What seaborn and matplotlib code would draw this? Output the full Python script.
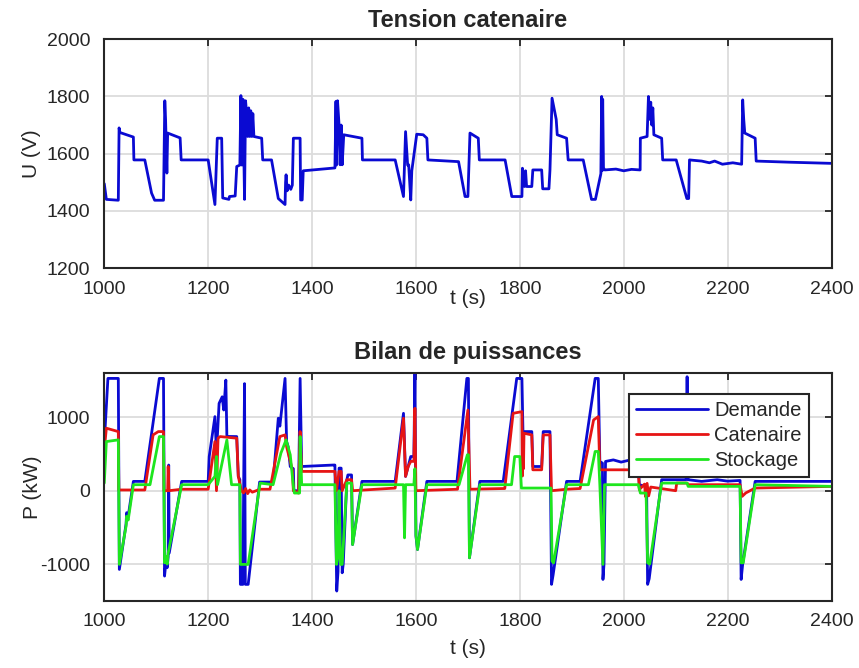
import numpy as np
import pandas as pd
import matplotlib
matplotlib.use("Agg")
import matplotlib.pyplot as plt
import seaborn as sns

# Tension catenaire (s, V)
t_u = [1000, 1004, 1027, 1028.5, 1030, 1056, 1057, 1078, 1091, 1097, 1114, 1116.5, 1118, 1120.5, 1122,
       1146, 1148, 1200, 1213, 1217.5, 1226, 1228, 1240, 1241, 1252, 1255, 1261, 1263, 1265, 1267,
       1270, 1272, 1274, 1276, 1278, 1280, 1282, 1284, 1286, 1288, 1303, 1305, 1322, 1335, 1348,
       1349, 1350, 1352, 1355, 1359, 1362, 1364, 1377, 1378, 1381, 1383, 1444, 1446, 1447, 1449,
       1452, 1454, 1456, 1458, 1461, 1496, 1497, 1560, 1576, 1580, 1584, 1586, 1590, 1592, 1601.5,
       1614, 1621, 1623, 1682, 1694.5, 1700, 1704, 1720, 1722, 1771.6, 1784.5, 1804, 1805, 1809,
       1811, 1813, 1823, 1825, 1842, 1844, 1856, 1858, 1860, 1862, 1870, 1872, 1890, 1893, 1922,
       1936.7, 1938, 1945.5, 1956, 1957.5, 1958.5, 1959.5, 1961, 1963.6, 1985, 2000, 2015, 2031.6,
       2032, 2045, 2047.6, 2050, 2052, 2054, 2056, 2058, 2073, 2075, 2101, 2121.5, 2125, 2126.6,
       2150, 2165, 2175, 2190, 2210, 2227, 2229, 2231, 2233, 2253, 2255, 2320, 2400]
u_cat = [1495, 1440, 1437, 1690, 1674, 1658, 1578, 1578, 1462, 1437, 1437, 1785, 1720, 1532, 1672,
         1655, 1578, 1578, 1422, 1654, 1654, 1445, 1440, 1450, 1452, 1555, 1560, 1803, 1560, 1790,
         1440, 1785, 1740, 1660, 1760, 1660, 1750, 1660, 1740, 1660, 1654, 1578, 1578, 1443, 1422,
         1500, 1526, 1470, 1490, 1475, 1490, 1654, 1654, 1438, 1438, 1540, 1550, 1783, 1560, 1785,
         1700, 1561, 1700, 1561, 1666, 1654, 1578, 1578, 1450, 1677, 1560, 1561, 1438, 1540, 1668,
         1666, 1654, 1578, 1572, 1450, 1450, 1672, 1654, 1578, 1578, 1450, 1450, 1549, 1485,
         1540, 1485, 1485, 1543, 1543, 1477, 1477, 1543, 1666, 1794, 1720, 1666, 1654, 1578, 1578,
         1450, 1440, 1440, 1530, 1800, 1540, 1790, 1550, 1543, 1546, 1540, 1545, 1543,
         1654, 1660, 1800, 1720, 1780, 1700, 1760, 1666, 1654, 1578, 1578, 1443, 1443, 1578,
         1574, 1568, 1574, 1563, 1568, 1563, 1788, 1720, 1672, 1654, 1574, 1570, 1566]

# Bilan de puissances (s, kW)
t_dem = [1000, 1007, 1027, 1029, 1042, 1043, 1046, 1056, 1078, 1106, 1114, 1116, 1119, 1121, 1123,
         1124, 1125, 1149, 1200, 1202, 1213, 1216, 1221, 1227, 1230, 1234, 1236, 1255, 1258, 1261,
         1262, 1267, 1268, 1270, 1271.5, 1277, 1299, 1325, 1335, 1338, 1348, 1351, 1354, 1358, 1364,
         1365, 1374, 1377, 1380, 1441, 1444, 1447.5, 1450, 1452, 1456, 1458, 1460, 1467, 1469, 1476,
         1478, 1496, 1560, 1576, 1580, 1585, 1590, 1596, 1598, 1600, 1603, 1621, 1679, 1698, 1701,
         1703, 1723, 1768, 1794, 1804, 1806, 1823, 1825, 1842, 1845, 1858, 1861, 1864, 1890, 1916,
         1945, 1951, 1954, 1959, 1960, 1962, 1965, 1980, 1995, 2010, 2028, 2030, 2044, 2046, 2049,
         2073, 2120, 2122, 2124, 2150, 2180, 2200, 2224, 2226, 2229, 2253, 2400]
p_dem = [650, 1531, 1531, -1073, -450, -300, -350, 127, 127, 1531, 1531, -1164, -950, -1050, -900,
         350, -850, 127, 127, 466, 1010, 510, 1190, 1280, 1100, 1508, 740, 738, 195, 150,
         -1277, -1277, -200, 1460, -1277, -1277, 118, 118, 988, 880, 1531, 670, 600, 330, 300,
         0, 0, 1531, 330, 350, 350, -1368, -1100, 308, 308, -1119, -1000, 150, 215, 215,
         -734, 127, 127, 1055, 195, 330, 466, 466, 1600, -620, -802, 127, 127, 1531, 1531,
         -915, 127, 127, 1531, 1531, 806, 806, 330, 330, 806, 806, -1277, -1150, 127, 127,
         1531, 1531, 399, 376, -1210, -1000, 399, 420, 390, 415, 399, 80, 60, -1277, -1200,
         150, 150, 1554, 150, 127, 150, 130, 140, -1210, -1000, 127, 127]

t_cat = [1000, 1004, 1027, 1028, 1078, 1094, 1104, 1114, 1115, 1122, 1123, 1124.5, 1149, 1200,
         1213, 1216, 1219, 1223, 1255, 1258, 1264, 1268, 1272, 1276, 1280, 1285, 1300, 1319, 1338,
         1348, 1351, 1358, 1362, 1364, 1374, 1377, 1380, 1444, 1447, 1452, 1456, 1458, 1467, 1476,
         1478, 1560, 1576, 1580, 1585, 1590, 1596, 1598, 1600, 1680, 1700, 1704, 1771, 1787, 1804,
         1805, 1806, 1807, 1808, 1823, 1825, 1842, 1845, 1858, 1861, 1890, 1916, 1942, 1951, 1954,
         2028, 2030, 2040, 2042, 2045, 2048, 2052, 2100, 2102, 2122, 2124, 2224, 2228, 2235, 2253, 2400]
p_cat = [557, 852, 806, 10, 10, 761, 806, 806, 0, 0, 330, 0, 20, 20,
         670, 0, 716, 738, 716, 195, 0, -30, 30, -40, 10, -20, 20, 20, 738,
         761, 600, 400, 285, 0, -32, 806, 263, 263, 0, 263, 263, 0, 150, 150,
         0, 36, 988, 195, 330, 400, 400, 1123, 0, 20, 1100, 20, 30, 1055, 1078,
         200, 783, 300, 783, 761, 285, 285, 761, 761, 0, 20, 30, 965, 1010, 285,
         285, 14, 90, -80, 100, -70, 50, 0, 104, 104, 82, 82, -77, -30, 36, 59]

t_sto = [1000, 1004, 1027, 1029, 1042, 1043, 1046, 1056, 1088, 1106, 1114, 1116, 1119, 1121, 1123,
         1149, 1200, 1213, 1216, 1218, 1236, 1245, 1261, 1262, 1277, 1300, 1325, 1340, 1350, 1358,
         1364, 1366, 1376, 1377, 1380, 1444, 1447, 1450, 1452, 1455, 1458, 1467, 1476, 1478, 1496,
         1576, 1578, 1580, 1596, 1598, 1600, 1603, 1621, 1683, 1699, 1701, 1703, 1723, 1784, 1790,
         1800, 1803, 1860, 1862, 1865, 1890, 1932, 1945, 1951, 1954, 1960, 1963, 2028, 2032, 2043,
         2046, 2050, 2073, 2122, 2124, 2224, 2226, 2230, 2253, 2400]
p_sto = [104, 670, 693, -1005, -480, -350, -400, 82, 82, 738, 738, -983, -900, -1000, -850,
         82, 82, 195, 466, 82, 693, 82, 82, -1005, -1005, 104, 82, 512, 693, 490,
         60, -32, -32, 738, 82, 82, -1005, -900, 0, -1005, -1005, 104, 104, -734, 82,
         82, -643, 82, 82, 300, -600, -802, 82, 82, 490, 490, -915, 82, 82, 466,
         466, 36, 36, -960, -983, 82, 82, 535, 535, 82, -1005, 82, 82, -32, -32,
         -983, -1000, 104, 104, 59, 59, -983, -983, 82, 59]

series_names = ["Demande", "Catenaire", "Stockage"]
colors = {"Demande": "#0a0ad2", "Catenaire": "#e61414", "Stockage": "#1ee61e"}

df_u = pd.DataFrame({"t": t_u, "U": u_cat})
df_p = pd.concat([
    pd.DataFrame({"t": t_dem, "P": p_dem, "serie": "Demande"}),
    pd.DataFrame({"t": t_cat, "P": p_cat, "serie": "Catenaire"}),
    pd.DataFrame({"t": t_sto, "P": p_sto, "serie": "Stockage"}),
], ignore_index=True)

sns.set_style("white")
plt.rcParams["font.family"] = ["Liberation Sans", "DejaVu Sans"]
plt.rcParams["axes.unicode_minus"] = False

fig = plt.figure(figsize=(8.59, 6.68), dpi=100)
ax1 = fig.add_axes([0.1214, 0.5988, 0.8466, 0.3424])
ax2 = fig.add_axes([0.1214, 0.1007, 0.8466, 0.3404])

sns.lineplot(data=df_u, x="t", y="U", ax=ax1, color="#0a0ad2", linewidth=2,
             estimator=None, sort=False)
sns.lineplot(data=df_p, x="t", y="P", hue="serie", hue_order=series_names, palette=colors,
             ax=ax2, linewidth=2, estimator=None, sort=False)

for ax in (ax1, ax2):
    ax.set_xlim(1000, 2400)
    ax.set_xticks(range(1000, 2401, 200))
    ax.grid(True, color="#dcdcdc", linewidth=1.3)
    ax.set_axisbelow(True)
    ax.tick_params(direction="in", top=True, right=True, length=5, width=1.3,
                   labelsize=14, colors="#262626")
    ax.tick_params(axis="x", pad=9)
    ax.tick_params(axis="y", pad=10)
    for s in ax.spines.values():
        s.set_color("#262626")
        s.set_linewidth(1.5)

ax1.set_xlabel("t (s)", fontsize=15, color="#262626", labelpad=-6)
ax2.set_xlabel("t (s)", fontsize=15, color="#262626", labelpad=6)

ax1.set_ylim(1200, 2000)
ax1.set_yticks(range(1200, 2001, 200))
ax1.set_ylabel("U (V)", fontsize=15, color="#262626", labelpad=4)
ax1.set_title("Tension catenaire", fontsize=17, fontweight="bold", pad=9)

ax2.set_ylim(-1500, 1600)
ax2.set_yticks([-1000, 0, 1000])
ax2.set_ylabel("P (kW)", fontsize=15, color="#262626", labelpad=-1)
ax2.set_title("Bilan de puissances", fontsize=17, fontweight="bold", pad=10)

handles, labels = ax2.get_legend_handles_labels()
leg = ax2.legend(handles, labels, loc="upper right", bbox_to_anchor=(0.969, 0.91),
                 borderaxespad=0, fontsize=14.5, frameon=True, fancybox=False,
                 framealpha=1, edgecolor="#262626", handlelength=3.6,
                 handletextpad=0.3, labelspacing=0.3, borderpad=0.35)
leg.get_frame().set_linewidth(1.5)

fig.savefig("out.png", dpi=100)
